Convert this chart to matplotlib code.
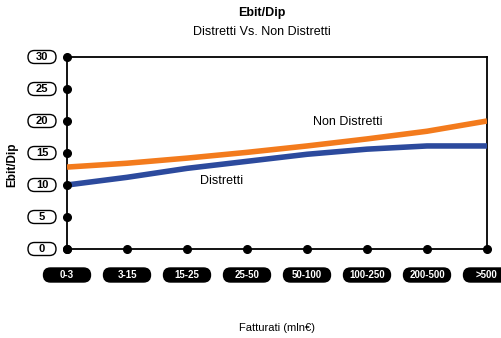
import matplotlib.pyplot as plt
import matplotlib.transforms as mtransforms
from matplotlib.patches import FancyBboxPatch

plt.rcParams['font.family'] = ['Liberation Sans', 'DejaVu Sans']

# dati
categorie = ['0-3', '3-15', '15-25', '25-50', '50-100', '100-250', '200-500', '>500']
non_distretti = [12.8, 13.4, 14.2, 15.1, 16.1, 17.2, 18.4, 20.0]
distretti = [10.0, 11.2, 12.6, 13.7, 14.8, 15.6, 16.1, 16.1]
yticks = [0, 5, 10, 15, 20, 25, 30]

fig = plt.figure(figsize=(5.01, 3.38), dpi=100)
ax = fig.add_axes([67/501, 1-249/338, 420/501, 192/338])

xs = range(len(categorie))
ax.plot(xs, non_distretti, color='#f37b1d', lw=4, solid_capstyle='butt',
        solid_joinstyle='round', zorder=3)
ax.plot(xs, distretti, color='#2c4a9d', lw=4, solid_capstyle='butt',
        solid_joinstyle='round', zorder=3)

ax.set_xlim(0, len(categorie)-1)
ax.set_ylim(0, 30)
for s in ax.spines.values():
    s.set_linewidth(1.3)
ax.tick_params(length=0, labelleft=False, labelbottom=False)

# pallini sugli assi
ax.plot(xs, [0]*len(categorie), 'o', color='k', ms=5.5, clip_on=False, zorder=4)
ax.plot([0]*len(yticks), yticks, 'o', color='k', ms=5.5, clip_on=False, zorder=4)

# etichette asse x (pillole nere)
bx = mtransforms.blended_transform_factory(ax.transData, ax.transAxes)
for i, c in enumerate(categorie):
    tr = fig.dpi_scale_trans + mtransforms.ScaledTranslation(i, 0, bx)
    w, h = 0.47, 0.14
    p = FancyBboxPatch((-w/2, -0.26-h/2), w, h, boxstyle='round,pad=0,rounding_size=0.07',
                       fc='k', ec='k', transform=tr, clip_on=False, zorder=5)
    ax.add_artist(p)
    ax.text(0, -0.26, c, transform=tr, color='white', fontsize=7, fontweight='bold',
            ha='center', va='center', zorder=6)

# etichette asse y (riquadri bianchi)
by = mtransforms.blended_transform_factory(ax.transAxes, ax.transData)
for v in yticks:
    tr = fig.dpi_scale_trans + mtransforms.ScaledTranslation(0, v, by)
    w, h = 0.28, 0.13
    p = FancyBboxPatch((-0.25-w/2, -h/2), w, h, boxstyle='round,pad=0,rounding_size=0.065',
                       fc='white', ec='k', lw=1, transform=tr, clip_on=False, zorder=5)
    ax.add_artist(p)
    ax.text(-0.25, -0.005, str(v), transform=tr, color='k', fontsize=8, fontweight='bold',
            ha='center', va='center', zorder=6)

ax.text(4.68, 19.8, 'Non Distretti', fontsize=9, ha='center', va='center')
ax.text(2.58, 10.7, 'Distretti', fontsize=9, ha='center', va='center')

fig.text(262/501, 1-13/338, 'Ebit/Dip', fontsize=9, fontweight='bold', ha='center', va='center')
fig.text(262/501, 1-32/338, 'Distretti Vs. Non Distretti', fontsize=9, ha='center', va='center')
fig.text(12/501, 1-165/338, 'Ebit/Dip', fontsize=8.5, fontweight='bold', rotation=90,
         ha='center', va='center')
fig.text(277/501, 1-328/338, 'Fatturati (mln€)', fontsize=8, ha='center', va='center')

fig.savefig('out.png', dpi=100)
